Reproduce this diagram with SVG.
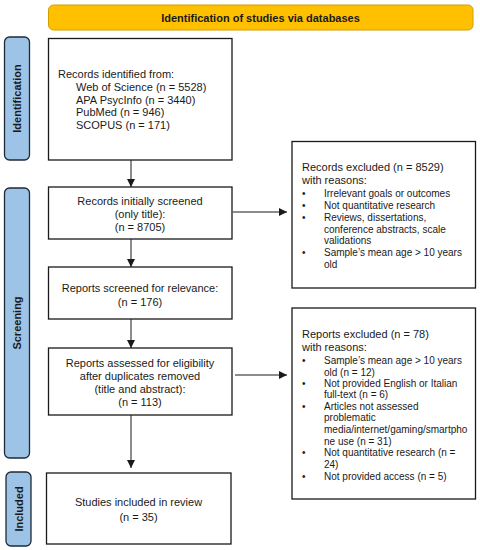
<svg xmlns="http://www.w3.org/2000/svg" width="480" height="550" viewBox="0 0 480 550">
<defs>
<style>
text{font-family:"Liberation Sans",Arial,sans-serif;font-size:11px;fill:#1a1a1a}
.b{font-weight:bold}
.c{text-anchor:middle}
.s{font-size:10px}
.box{fill:#fff;stroke:#1a1a1a;stroke-width:1.3}
.side{fill:#9DC3E6;stroke:#1f2a36;stroke-width:1.3}
.ln{stroke:#1a1a1a;stroke-width:1;fill:none}
</style>
<marker id="ah" markerWidth="8" markerHeight="8" refX="8" refY="4" orient="auto" markerUnits="userSpaceOnUse">
<path d="M0,0 L8,4 L0,8 Z" fill="#1a1a1a"/>
</marker>
</defs>
<rect width="480" height="550" fill="#fff"/>
<g id="banner">
<rect x="48.5" y="5" width="424.5" height="25" rx="5" fill="#FFC000" stroke="#D39E00" stroke-width="1"/>
<text class="b c" x="260.5" y="21.5">Identification of studies via databases</text>
</g>
<g id="label-identification">
<rect class="side" x="4.5" y="37" width="25" height="123" rx="5"/>
<text class="b c" transform="translate(21,98.5) rotate(-90)">Identification</text>
</g>
<g id="label-screening">
<rect class="side" x="4.5" y="188" width="25" height="270" rx="5"/>
<text class="b c" transform="translate(21,323) rotate(-90)">Screening</text>
</g>
<g id="label-included">
<rect class="side" x="6" y="472" width="25" height="74" rx="5"/>
<text class="b c" transform="translate(22.5,509) rotate(-90)">Included</text>
</g>
<g id="records-identified">
<rect class="box" x="48.5" y="38.5" width="183.5" height="121.5"/>
<text x="58" y="78">Records identified from:</text>
<text x="76" y="91">Web of Science (n = 5528)</text>
<text x="76" y="103.5">APA PsycInfo (n = 3440)</text>
<text x="76" y="116">PubMed (n = 946)</text>
<text x="76" y="129">SCOPUS (n = 171)</text>
</g>
<g id="records-screened">
<rect class="box" x="48.5" y="187" width="183.5" height="52"/>
<text class="c" x="140" y="205">Records initially screened</text>
<text class="c" x="140" y="218">(only title):</text>
<text class="c" x="140" y="231">(n = 8705)</text>
</g>
<g id="records-excluded">
<rect class="box" x="292" y="141.5" width="183.5" height="146.5"/>
<text x="302" y="171">Records excluded (n = 8529)</text>
<text x="302" y="184">with reasons:</text>
<g class="s">
<text class="s" x="302" y="197">•</text><text class="s" x="324" y="197">Irrelevant goals or outcomes</text>
<text class="s" x="302" y="208.5">•</text><text class="s" x="324" y="208.5">Not quantitative research</text>
<text class="s" x="302" y="221">•</text><text class="s" x="324" y="221">Reviews, dissertations,</text>
<text class="s" x="324" y="232.5">conference abstracts, scale</text>
<text class="s" x="324" y="244">validations</text>
<text class="s" x="302" y="256">•</text><text class="s" x="324" y="256">Sample’s mean age &gt; 10 years</text>
<text class="s" x="324" y="267.5">old</text>
</g>
</g>
<g id="reports-screened">
<rect class="box" x="48.5" y="267" width="183.5" height="52"/>
<text class="c" x="140" y="292">Reports screened for relevance:</text>
<text class="c" x="140" y="306">(n = 176)</text>
</g>
<g id="reports-assessed">
<rect class="box" x="48.5" y="348" width="183.5" height="67"/>
<text class="c" x="140" y="367">Reports assessed for eligibility</text>
<text class="c" x="140" y="380">after duplicates removed</text>
<text class="c" x="140" y="392.5">(title and abstract):</text>
<text class="c" x="140" y="406">(n = 113)</text>
</g>
<g id="reports-excluded">
<rect class="box" x="292" y="308" width="183.5" height="191"/>
<text x="302" y="338">Reports excluded (n = 78)</text>
<text x="302" y="351">with reasons:</text>
<text class="s" x="302" y="364">•</text><text class="s" x="324" y="364">Sample’s mean age &gt; 10 years</text>
<text class="s" x="324" y="375.5">old (n = 12)</text>
<text class="s" x="302" y="387">•</text><text class="s" x="324" y="387">Not provided English or Italian</text>
<text class="s" x="324" y="398">full-text (n = 6)</text>
<text class="s" x="302" y="409.5">•</text><text class="s" x="324" y="409.5">Articles not assessed</text>
<text class="s" x="324" y="421">problematic</text>
<text class="s" x="324" y="433">media/internet/gaming/smartpho</text>
<text class="s" x="324" y="444.5">ne use (n = 31)</text>
<text class="s" x="302" y="456">•</text><text class="s" x="324" y="456">Not quantitative research (n =</text>
<text class="s" x="324" y="467.5">24)</text>
<text class="s" x="302" y="479.5">•</text><text class="s" x="324" y="479.5">Not provided access (n = 5)</text>
</g>
<g id="studies-included">
<rect class="box" x="46.5" y="473" width="184.5" height="71"/>
<text class="c" x="138.5" y="506">Studies included in review</text>
<text class="c" x="138.5" y="521">(n = 35)</text>
</g>
<g id="connectors">
<line class="ln" x1="131" y1="160" x2="131" y2="187" marker-end="url(#ah)"/>
<line class="ln" x1="131" y1="239" x2="131" y2="267" marker-end="url(#ah)"/>
<line class="ln" x1="131" y1="319" x2="131" y2="348" marker-end="url(#ah)"/>
<line class="ln" x1="131" y1="415" x2="131" y2="468" marker-end="url(#ah)"/>
<line class="ln" x1="233" y1="212" x2="287" y2="212" marker-end="url(#ah)"/>
<line class="ln" x1="235" y1="375" x2="287" y2="375" marker-end="url(#ah)"/>
</g>
</svg>
